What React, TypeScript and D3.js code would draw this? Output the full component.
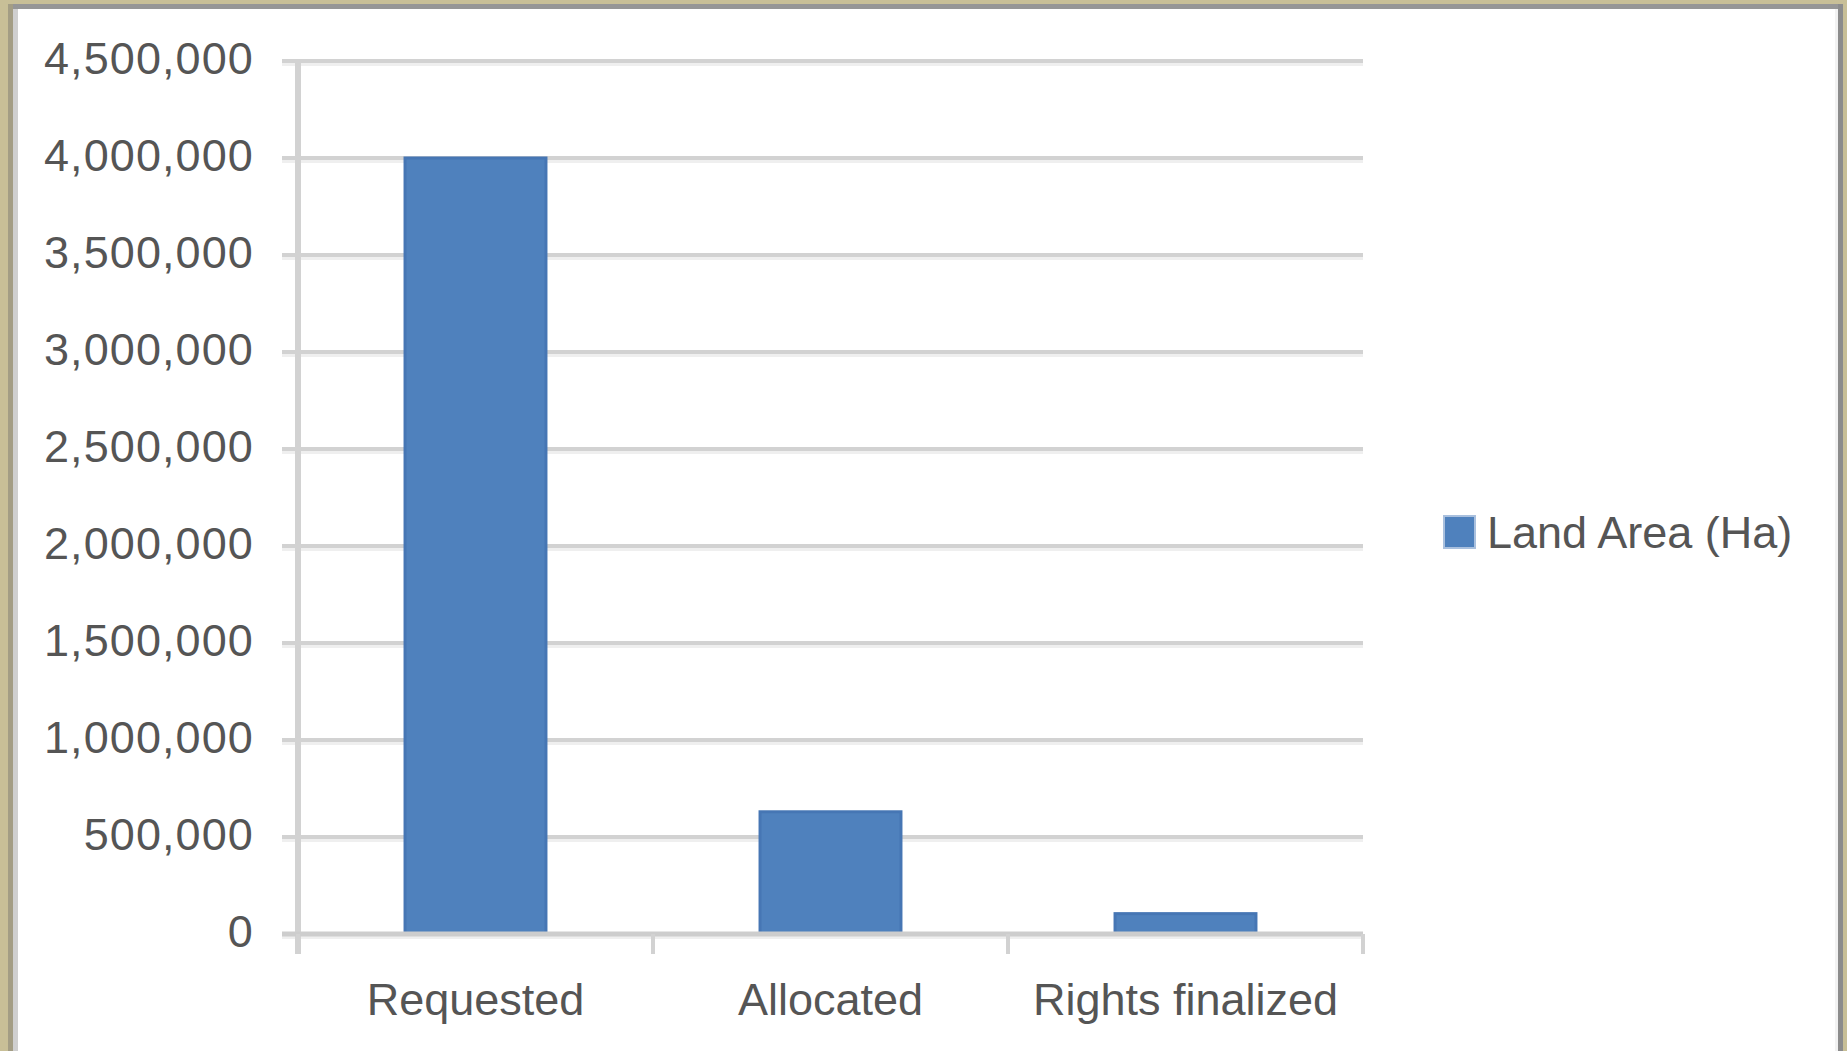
import React from "react";
import * as d3 from "d3";

const categories = ["Requested", "Allocated", "Rights finalized"];
const values = [4000000, 630000, 105000];
const yTicks = [0, 500000, 1000000, 1500000, 2000000, 2500000, 3000000, 3500000, 4000000, 4500000];
const seriesName = "Land Area (Ha)";

const W = 1847;
const H = 1051;
const FONT = "'Liberation Sans', Arial, sans-serif";
const TEXT = "#555555";
const GRID = "#d2d2d2";
const BAR = "#4f81bd";

export default function App() {
  const left = 298;
  const right = 1363;
  const top = 61;
  const bottom = 934;

  const y = d3.scaleLinear().domain([0, 4500000]).range([bottom, top]);
  const x = d3
    .scaleBand<string>()
    .domain(categories)
    .range([left, right])
    .paddingInner(0.603)
    .paddingOuter(0.3015);
  const step = x.step();
  const fmt = d3.format(",");
  const boundaries = d3.range(categories.length + 1).map((i) => left + i * step);

  return (
    <div style={{ position: "fixed", left: 0, top: 0, width: W, height: H, background: "#fff" }}>
      <svg width={W} height={H} style={{ display: "block" }}>
        {/* frame */}
        <rect x={0} y={0} width={W} height={H} fill="#fff" />
        <rect x={0} y={0} width={W} height={4} fill="#c8bf97" />
        <rect x={0} y={0} width={8} height={H} fill="#c8bf97" />
        <rect x={1843} y={0} width={4} height={H} fill="#c8bf97" />
        <rect x={8} y={4} width={1835} height={5} fill="#969696" />
        <rect x={8} y={4} width={5} height={H} fill="#a39d84" />
        <rect x={13} y={9} width={5} height={H} fill="#cfcfcf" />
        <rect x={1838} y={4} width={5} height={H} fill="#8c8c8c" />
        <rect x={1835} y={9} width={3} height={H} fill="#f2f2f2" />

        {/* gridlines */}
        {yTicks.map((t) => (
          <g key={t}>
            <line x1={left - 16} x2={right} y1={y(t)} y2={y(t)} stroke={GRID} strokeWidth={4} />
            <line x1={left - 16} x2={right} y1={y(t) + 3.5} y2={y(t) + 3.5} stroke="#efefef" strokeWidth={3} />
          </g>
        ))}

        {/* bars */}
        {categories.map((c, i) => (
          <rect
            key={c}
            x={x(c)}
            y={y(values[i])}
            width={x.bandwidth()}
            height={bottom - y(values[i])}
            fill={BAR}
            stroke="#4676b4"
            strokeWidth={3}
          />
        ))}

        {/* y axis */}
        <line x1={left} x2={left} y1={top} y2={bottom + 20} stroke={GRID} strokeWidth={6} />
        {/* x axis */}
        <line x1={left - 16} x2={right} y1={bottom} y2={bottom} stroke="#cdcdcd" strokeWidth={5} />
        {boundaries.map((b, i) => (
          <line key={i} x1={b} x2={b} y1={bottom} y2={bottom + 20} stroke={GRID} strokeWidth={4} />
        ))}

        {/* y tick labels */}
        {yTicks.map((t) => (
          <text
            key={t}
            x={254}
            y={y(t) - 3}
            textAnchor="end"
            dominantBaseline="central"
            fontFamily={FONT}
            fontSize={45}
            letterSpacing={1.1}
            fill={TEXT}
          >
            {fmt(t)}
          </text>
        ))}

        {/* category labels */}
        {categories.map((c) => (
          <text
            key={c}
            x={(x(c) as number) + x.bandwidth() / 2}
            y={999}
            textAnchor="middle"
            dominantBaseline="central"
            fontFamily={FONT}
            fontSize={45}
            fill={TEXT}
          >
            {c}
          </text>
        ))}

        {/* legend */}
        <rect x={1444} y={516} width={31} height={32} fill={BAR} stroke="#a9c0de" strokeWidth={2} />
        <text x={1487} y={532} dominantBaseline="central" fontFamily={FONT} fontSize={45} fill={TEXT}>
          {seriesName}
        </text>
      </svg>
    </div>
  );
}
